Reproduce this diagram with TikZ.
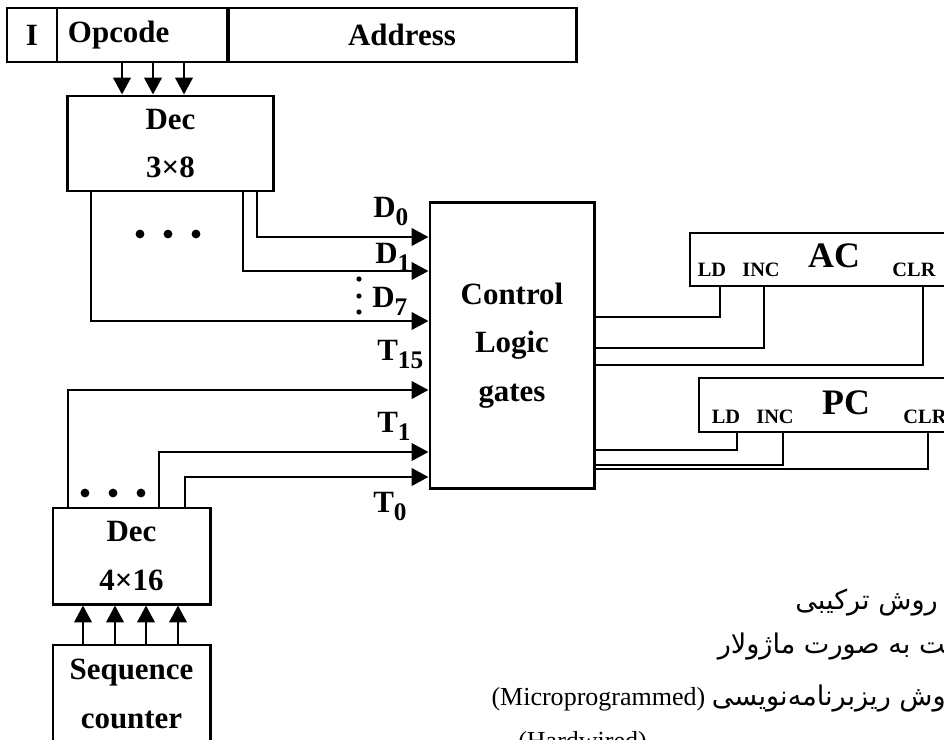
\documentclass[tikz,border=0pt]{standalone}
\usepackage{fontspec}
\setmainfont{Liberation Serif}
\newfontfamily\persfont[Script=Arabic]{DejaVu Sans}
\TeXXeTstate=1
\usetikzlibrary{arrows.meta, positioning, calc}
\newcommand{\lowsub}[1]{\raisebox{-5.7pt}{\fontsize{18}{18}\selectfont #1}}

\begin{document}
\begin{tikzpicture}[
    x=0.025cm, y=-0.025cm, % one unit = one pixel
    box/.style={
        rectangle,
        draw,
        line width=2.1pt,
        inner sep=0pt,
        align=center,
        font=\bfseries\fontsize{22}{34.5}\selectfont
    },
    line/.style={-{Triangle[length=0.42cm,width=0.43cm]}, line width=2.1pt},
    wire/.style={line width=2.1pt},
    sig/.style={inner sep=0pt, anchor=base west, font=\bfseries\fontsize{22}{22}\selectfont},
    pin/.style={inner sep=0pt, anchor=base, font=\bfseries\fontsize{14.5}{14.5}\selectfont},
    reg/.style={inner sep=0pt, anchor=base, font=\bfseries\fontsize{25.5}{25.5}\selectfont},
    note/.style={inner sep=0pt, font=\fontsize{18.5}{18.5}\selectfont}
]
    \useasboundingbox (0,0) rectangle (944,739);
    \clip (0,0) rectangle (944,739);

    % instruction word
    \node[box, minimum width=1.25cm, minimum height=1.35cm] (icell) at (32,35) {I};
    \node[box, minimum height=1.35cm, text width=3.725cm, inner xsep=0.275cm, align=left] (opcode) at (142.5,35) {Opcode};
    \node[box, minimum width=8.7cm, minimum height=1.35cm] (address) at (402,35) {Address};

    \node[box, minimum width=5.125cm, minimum height=2.375cm] (dec3) at (170.5,143.5) {Dec\\3×8};
    \node[box, minimum width=4.1cm, minimum height=7.125cm] (ctrl) at (512,345.5) {Control\\Logic\\gates};
    \node[box, minimum width=3.925cm, minimum height=2.4cm] (dec4) at (131.5,556) {Dec\\4×16};
    \node[box, minimum width=3.925cm, minimum height=2.45cm] (seq) at (131.5,694) {Sequence\\counter};

    % registers
    \node[box, minimum width=7cm, minimum height=1.325cm] (ac) at (830,259.5) {};
    \node[box, minimum width=7cm, minimum height=1.35cm] (pc) at (839,405) {};
    \node[pin] (acld) at (712,276) {LD};
    \node[pin] (acinc) at (761,276) {INC};
    \node[reg] (acname) at (834,267) {AC};
    \node[pin] (acclr) at (914,276) {CLR};
    \node[pin] (pcld) at (726,423) {LD};
    \node[pin] (pcinc) at (775,423) {INC};
    \node[reg] (pcname) at (846,414) {PC};
    \node[pin] (pcclr) at (925,423) {CLR};

    % opcode bits and counter bits
    \draw[line] (opcode.south -| 122,0) -- (dec3.north -| 122,0);
    \draw[line] (opcode.south -| 153,0) -- (dec3.north -| 153,0);
    \draw[line] (opcode.south -| 184,0) -- (dec3.north -| 184,0);
    \draw[line] (seq.north -| 83,0) -- (dec4.south -| 83,0);
    \draw[line] (seq.north -| 115,0) -- (dec4.south -| 115,0);
    \draw[line] (seq.north -| 146,0) -- (dec4.south -| 146,0);
    \draw[line] (seq.north -| 178,0) -- (dec4.south -| 178,0);

    % decoder outputs into the logic
    \draw[line] (dec3.south -| 257,0) |- (ctrl.west |- 0,237);
    \draw[line] (dec3.south -| 243,0) |- (ctrl.west |- 0,271);
    \draw[line] (dec3.south -| 91,0) |- (ctrl.west |- 0,321);
    \draw[line] (dec4.north -| 68,0) |- (ctrl.west |- 0,390);
    \draw[line] (dec4.north -| 159,0) |- (ctrl.west |- 0,452);
    \draw[line] (dec4.north -| 185,0) |- (ctrl.west |- 0,477);

    % control lines to AC and PC
    \draw[wire] (ac.south -| 720,0) |- (ctrl.east |- 0,317);
    \draw[wire] (ac.south -| 764,0) |- (ctrl.east |- 0,348);
    \draw[wire] (ac.south -| 923,0) |- (ctrl.east |- 0,365);
    \draw[wire] (pc.south -| 737,0) |- (ctrl.east |- 0,450);
    \draw[wire] (pc.south -| 783,0) |- (ctrl.east |- 0,465);
    \draw[wire] (pc.south -| 928,0) |- (ctrl.east |- 0,469);

    \node[sig] (d0) at (373,217) {D\lowsub{0}};
    \node[sig] (d1) at (375,263) {D\lowsub{1}};
    \node[sig] (d7) at (372,307) {D\lowsub{7}};
    \node[sig] (t15) at (377,360) {T\lowsub{15}};
    \node[sig] (t1) at (377,432) {T\lowsub{1}};
    \node[sig] (t0) at (373,512) {T\lowsub{0}};

    \fill (140,234) circle[radius=0.11cm];
    \fill (168,234) circle[radius=0.11cm];
    \fill (196,234) circle[radius=0.11cm];
    \fill (85,493) circle[radius=0.11cm];
    \fill (113,493) circle[radius=0.11cm];
    \fill (141,493) circle[radius=0.11cm];
    \fill (359,279) circle[radius=0.065cm];
    \fill (359,296) circle[radius=0.065cm];
    \fill (359,312) circle[radius=0.065cm];

    % text under the picture
    \node[note, anchor=base east] (note1) at (938,609) {\persfont\fontsize{19.3}{19.3}\selectfont\beginR روش ترکیبی\endR};
    \node[note, anchor=base east] (note2) at (946,653) {\persfont\fontsize{19.3}{19.3}\selectfont\beginR ^^^^200dت به صورت ماژولار\endR};
    \node[note, anchor=base east] (note3) at (946,705) {\beginR{\persfont\fontsize{19.3}{19.3}\selectfont وش ریزبرنامه^^^^200cنویسی} \beginL(Microprogrammed)\endL\endR};
    \node[note, anchor=base west] (note4) at (518,749) {(Hardwired)};

\end{tikzpicture}
\end{document}
